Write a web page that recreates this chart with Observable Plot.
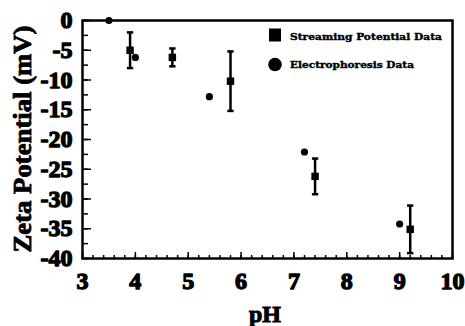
<!DOCTYPE html>
<html>
<head>
<meta charset="utf-8">
<script src="https://cdn.jsdelivr.net/npm/d3@7"></script>
<script src="https://cdn.jsdelivr.net/npm/@observablehq/plot@0.6"></script>
<style>
  html, body { margin: 0; padding: 0; background: #fff; }
  #chart { position: relative; width: 465px; height: 326px; }
</style>
</head>
<body>
<div id="chart"></div>
<script>
// Streaming potential data (squares with error bars)
const streamPH = [3.9, 4.7, 5.8, 7.4, 9.2];
const streamZeta = [-5, -6.2, -10.2, -26.2, -35.1];
const streamErr = [3, 1.5, 5, 3, 4];
// Electrophoresis data (circles)
const electroPH = [3.5, 4.0, 5.4, 7.2, 9.0];
const electroZeta = [0, -6.2, -12.8, -22.1, -34.2];
// Tick values
const xMajor = [3, 4, 5, 6, 7, 8, 9, 10];
const xMinor = d3.range(3, 10.001, 0.2);
const yMajor = [-40, -35, -30, -25, -20, -15, -10, -5, 0];
const yMinor = d3.range(-40, 0.001, 2.5);
const legendLabels = ["Streaming Potential Data", "Electrophoresis Data"];
const xTitle = "pH";
const yTitle = "Zeta Potential (mV)";

const serif = "Liberation Serif";
const stream = streamPH.map((p, i) => ({ph: p, z: streamZeta[i], lo: streamZeta[i] - streamErr[i], hi: streamZeta[i] + streamErr[i]}));
const electro = electroPH.map((p, i) => ({ph: p, z: electroZeta[i]}));
const caps = stream.flatMap(d => [{ph: d.ph, v: d.lo}, {ph: d.ph, v: d.hi}]);
const labelStyle = {fontSize: 24, fontFamily: serif, fontWeight: "bold", fill: "#000", stroke: "#000", strokeWidth: 1.3};

const chart = Plot.plot({
  width: 465,
  height: 326,
  marginLeft: 82,
  marginRight: 13,
  marginTop: 20,
  marginBottom: 68,
  style: {fontFamily: serif, fontWeight: "bold", color: "#000", background: "#fff"},
  x: {domain: [3, 10], label: null},
  y: {domain: [-40, 0], label: null},
  marks: [
    // inward ticks: drawn from the bottom / left edge pointing into the frame
    Plot.axisX(xMinor, {anchor: "top", frameAnchor: "bottom", tickSize: 4, text: null, label: null, strokeWidth: 1.5}),
    Plot.axisX(xMajor, {anchor: "top", frameAnchor: "bottom", tickSize: 7, text: null, label: null, strokeWidth: 1.5}),
    Plot.axisY(yMinor, {anchor: "right", frameAnchor: "left", tickSize: 5, text: null, label: null, strokeWidth: 1.5}),
    Plot.axisY(yMajor, {anchor: "right", frameAnchor: "left", tickSize: 8, text: null, label: null, strokeWidth: 1.5}),
    // tick labels
    Plot.text(xMajor, {x: d => d, text: d => String(d), frameAnchor: "bottom", lineAnchor: "top", dy: 13, ...labelStyle}),
    Plot.text(yMajor, {y: d => d, text: d => d === 0 ? "0" : "-" + Math.abs(d), frameAnchor: "left", textAnchor: "end", lineAnchor: "middle", dx: -10, ...labelStyle}),
    Plot.frame({strokeWidth: 2.5}),
    Plot.ruleX(stream, {x: "ph", y1: "lo", y2: "hi", strokeWidth: 2.5}),
    Plot.link(caps, {x1: d => d.ph - 0.06, x2: d => d.ph + 0.06, y1: "v", y2: "v", strokeWidth: 2.5}),
    Plot.dot(stream, {x: "ph", y: "z", symbol: "square", r: 4.2, fill: "#000"}),
    Plot.dot(electro, {x: "ph", y: "z", symbol: "circle", r: 3.6, fill: "#000"})
  ]
});
document.getElementById("chart").append(chart);

const svg = d3.select(chart);
// Axis titles
svg.append("text")
  .attr("text-anchor", "middle")
  .attr("font-family", serif).attr("font-weight", "bold")
  .attr("stroke", "#000").attr("stroke-width", 1)
  .attr("x", 265).attr("y", 322)
  .attr("font-size", 24)
  .text(xTitle);
svg.append("text")
  .attr("text-anchor", "middle")
  .attr("font-family", serif).attr("font-weight", "bold")
  .attr("stroke", "#000").attr("stroke-width", 0.8)
  .attr("transform", "translate(31,139) rotate(-90)")
  .attr("font-size", 25)
  .attr("textLength", 227).attr("lengthAdjust", "spacingAndGlyphs")
  .text(yTitle);

// Legend (inside plot area, top right)
const lg = svg.append("g").attr("font-family", "DejaVu Serif").attr("font-weight", "bold").attr("font-size", 10).attr("text-anchor", "start");
lg.append("rect").attr("x", 269).attr("y", 28.5).attr("width", 12).attr("height", 13).attr("fill", "#000");
lg.append("circle").attr("cx", 275).attr("cy", 64.5).attr("r", 6.8).attr("fill", "#000");
lg.append("text").attr("x", 290).attr("y", 40).attr("stroke", "#000").attr("stroke-width", 0.4).attr("textLength", 152).attr("lengthAdjust", "spacingAndGlyphs").text(legendLabels[0]);
lg.append("text").attr("x", 290).attr("y", 68).attr("stroke", "#000").attr("stroke-width", 0.4).attr("textLength", 124).attr("lengthAdjust", "spacingAndGlyphs").text(legendLabels[1]);
</script>
</body>
</html>
